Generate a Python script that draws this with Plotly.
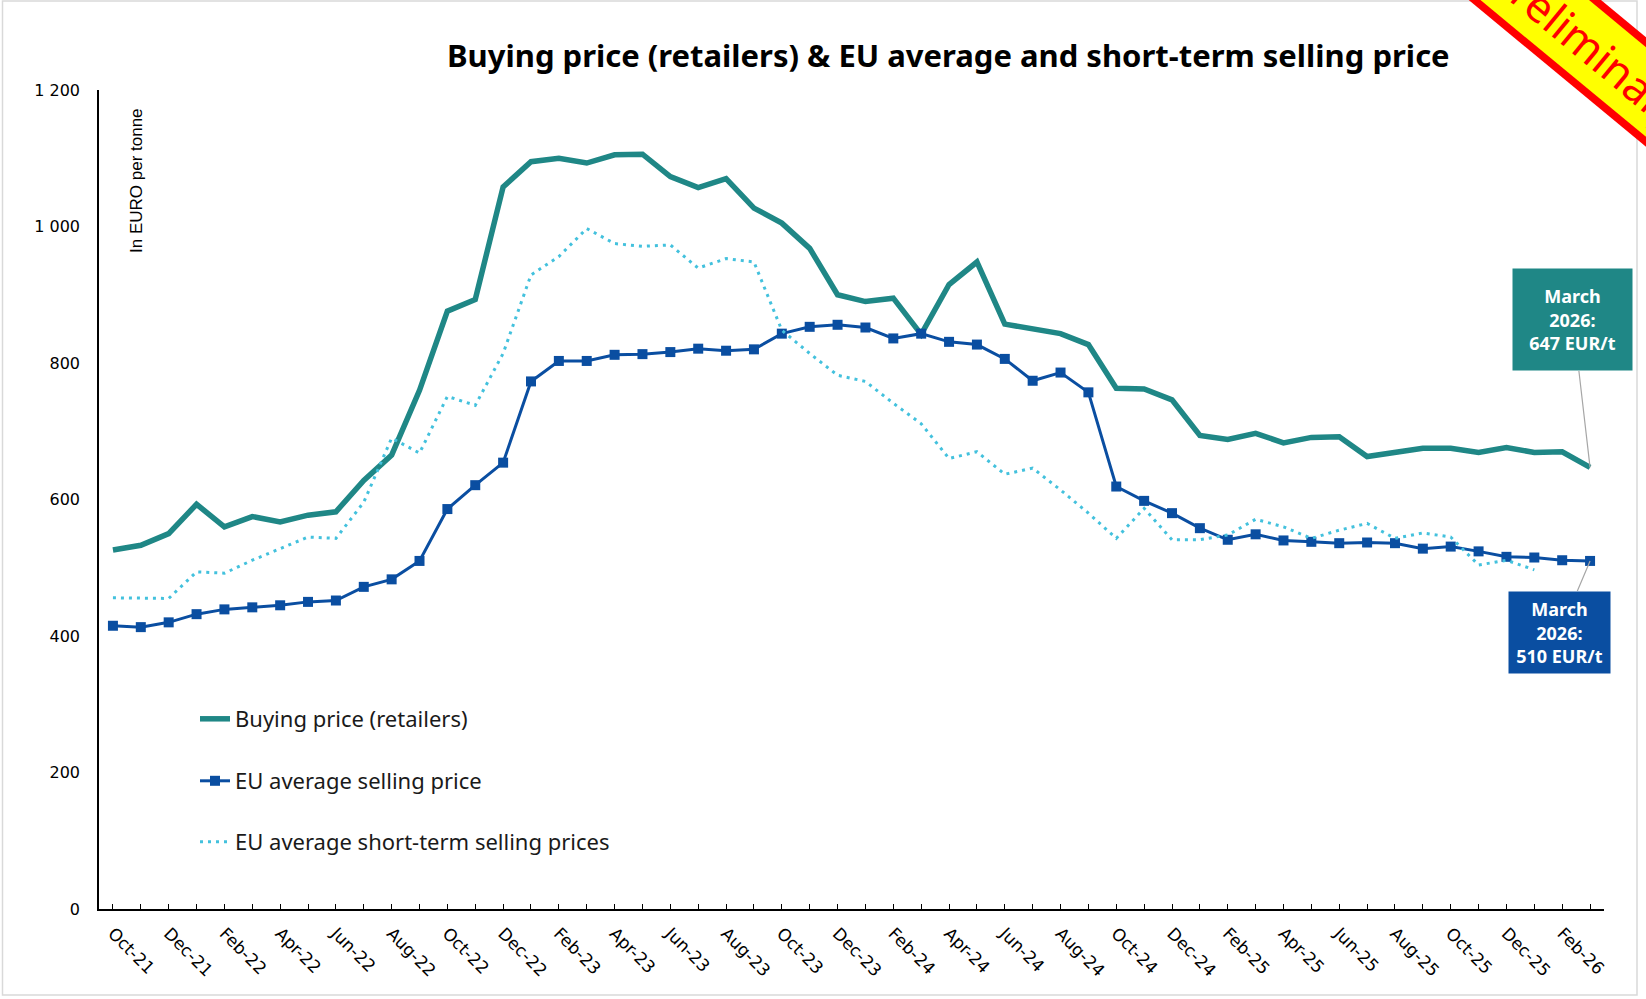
import plotly.graph_objects as go

# ---------------- data ----------------
months = ["Oct-21", "Nov-21", "Dec-21",
          "Jan-22", "Feb-22", "Mar-22", "Apr-22", "May-22", "Jun-22", "Jul-22", "Aug-22", "Sep-22", "Oct-22", "Nov-22", "Dec-22",
          "Jan-23", "Feb-23", "Mar-23", "Apr-23", "May-23", "Jun-23", "Jul-23", "Aug-23", "Sep-23", "Oct-23", "Nov-23", "Dec-23",
          "Jan-24", "Feb-24", "Mar-24", "Apr-24", "May-24", "Jun-24", "Jul-24", "Aug-24", "Sep-24", "Oct-24", "Nov-24", "Dec-24",
          "Jan-25", "Feb-25", "Mar-25", "Apr-25", "May-25", "Jun-25", "Jul-25", "Aug-25", "Sep-25", "Oct-25", "Nov-25", "Dec-25",
          "Jan-26", "Feb-26", "Mar-26"]

buying_price = [526, 533, 550,
                593, 560, 575, 567, 577, 582, 628, 665, 760, 876, 893, 1058,
                1095, 1100, 1093, 1105, 1106, 1073, 1057, 1070, 1027, 1005, 968, 900,
                890, 895, 842, 915, 948, 857, 851, 843, 827, 763, 762, 746,
                694, 688, 697, 683, 691, 692, 663, 670, 675, 675, 669, 676,
                669, 670, 647]

eu_avg_selling = [415, 413, 420,
                  432, 439, 442, 445, 450, 452, 472, 483, 510, 586, 621, 654,
                  773, 803, 803, 812, 813, 816, 821, 818, 820, 843, 853, 856,
                  852, 836, 843, 831, 827, 806, 774, 786, 757, 619, 598, 580,
                  558, 541, 549, 540, 538, 536, 537, 536, 528, 531, 524, 516,
                  515, 511, 510]

eu_short_term = [456, 456, 455,
                 494, 492, 511, 528, 545, 543, 596, 690, 668, 751, 738, 814,
                 929, 956, 997, 975, 971, 973, 939, 953, 948, 848, 814, 782,
                 773, 741, 711, 660, 670, 637, 646, 614, 580, 543, 587, 541,
                 541, 548, 571, 560, 543, 555, 565, 543, 551, 545, 504, 511,
                 497, None, None]

tick_labels = ["Oct-21", "Dec-21", "Feb-22", "Apr-22", "Jun-22", "Aug-22", "Oct-22", "Dec-22",
               "Feb-23", "Apr-23", "Jun-23", "Aug-23", "Oct-23", "Dec-23", "Feb-24", "Apr-24",
               "Jun-24", "Aug-24", "Oct-24", "Dec-24", "Feb-25", "Apr-25", "Jun-25", "Aug-25",
               "Oct-25", "Dec-25", "Feb-26"]
y_ticks = [0, 200, 400, 600, 800, 1000, 1200]
y_tick_labels = ["0", "200", "400", "600", "800", "1 000", "1 200"]

# ---------------- geometry ----------------
W, H = 1646, 999
ML, MR, MT, MB = 99, 42, 90, 90
PW = W - ML - MR
PH = H - MT - MB


def px(x):
    return (x - ML) / PW


def py(y):
    return (H - MB - y) / PH


TEAL = "#1F8786"
BLUE = "#0A4EA1"
LIGHT = "#43C1DD"

idx = list(range(len(months)))
tick_pos = [months.index(t) for t in tick_labels]

fig = go.Figure()
fig.add_trace(go.Scatter(x=idx, y=buying_price, mode="lines", name="Buying price (retailers)",
                         line=dict(color=TEAL, width=5.5), legend="legend"))
fig.add_trace(go.Scatter(x=idx, y=eu_avg_selling, mode="lines+markers", name="EU average selling price",
                         line=dict(color=BLUE, width=3), marker=dict(symbol="square", size=10, color=BLUE),
                         legend="legend2"))
fig.add_trace(go.Scatter(x=idx, y=eu_short_term, mode="lines", name="EU average short-term selling prices",
                         line=dict(color=LIGHT, width=3, dash="3px,5px"), connectgaps=False,
                         legend="legend3"))

leg_font = dict(family="Noto Sans", size=22, color="#1a1a1a")
leg_common = dict(xanchor="left", yanchor="middle", bgcolor="rgba(0,0,0,0)", font=leg_font)

x_last_px = ML + PW * (idx[-1] + 0.5) / len(idx)

annotations = [
    dict(text="<b>Buying price (retailers) &amp; EU average and short-term selling price</b>",
         xref="paper", yref="paper", x=px(948), y=py(55), xanchor="center", yanchor="middle",
         showarrow=False, font=dict(family="Noto Sans", size=31, color="#000000")),
    dict(text="In EURO per tonne", xref="paper", yref="paper", x=px(136), y=py(181),
         xanchor="center", yanchor="middle", textangle=-90, showarrow=False,
         font=dict(family="Liberation Sans Narrow, Liberation Sans", size=17, color="#000000")),
    dict(text="<b>March<br>2026:<br>%d EUR/t</b>" % buying_price[-1], x=idx[-1], y=buying_price[-1],
         xref="x", yref="y", ax=1573 - x_last_px, ay=320 - (H - MB - buying_price[-1] * PH / 1200),
         axref="pixel", ayref="pixel", showarrow=True, arrowhead=0, arrowwidth=1.2, arrowcolor="#A6A6A6",
         bgcolor=TEAL, width=117, height=99, borderpad=1, align="center",
         font=dict(family="Noto Sans", size=18, color="#ffffff")),
    dict(text="<b>March<br>2026:<br>%d EUR/t</b>" % eu_avg_selling[-1], x=idx[-1], y=eu_avg_selling[-1],
         xref="x", yref="y", ax=1560 - x_last_px, ay=632 - (H - MB - eu_avg_selling[-1] * PH / 1200),
         axref="pixel", ayref="pixel", showarrow=True, arrowhead=0, arrowwidth=1.2, arrowcolor="#A6A6A6",
         bgcolor=BLUE, width=99, height=79, borderpad=1, align="center",
         font=dict(family="Noto Sans", size=18, color="#ffffff")),
]

# preliminary ribbon (pixel geometry converted to paper)
k = 0.827


def band(x_low, x_up):
    pts = [(1400, k * (1400 - x_low)), (1760, k * (1760 - x_low)),
           (1760, k * (1760 - x_up)), (1400, k * (1400 - x_up))]
    return "M " + " L ".join("%f,%f" % (px(a), py(b)) for a, b in pts) + " Z"


shapes = [
    dict(type="rect", xref="paper", yref="paper", x0=px(2.5), x1=px(1637), y0=py(995), y1=py(1),
         line=dict(color="#D9D9D9", width=1.5), layer="below"),
    dict(type="path", xref="paper", yref="paper", path=band(1468.7, 1601), fillcolor="#FF0000",
         line=dict(width=0), layer="above"),
    dict(type="path", xref="paper", yref="paper", path=band(1480.5, 1589), fillcolor="#FFFF00",
         line=dict(width=0), layer="above"),
]
annotations.append(dict(text="Preliminary", xref="paper", yref="paper", x=px(1589), y=py(45),
                        xanchor="center", yanchor="middle", textangle=39.6, showarrow=False,
                        font=dict(family="Noto Sans", size=44, color="#FF0000")))

fig.update_layout(
    width=W, height=H,
    margin=dict(l=ML, r=MR, t=MT, b=MB, pad=0),
    paper_bgcolor="#ffffff", plot_bgcolor="#ffffff",
    showlegend=True,
    legend=dict(x=px(195), y=py(719), **leg_common),
    legend2=dict(x=px(195), y=py(781), **leg_common),
    legend3=dict(x=px(195), y=py(842), **leg_common),
    xaxis=dict(range=[-0.5, len(idx) - 0.5], tickmode="array", tickvals=tick_pos, ticktext=tick_labels,
               tickangle=45, showline=True, linecolor="#000000", linewidth=1.5, showgrid=False, zeroline=False,
               ticks="inside", ticklen=5, tickcolor="#000000",
               minor=dict(tickvals=idx, ticks="inside", ticklen=5, tickcolor="#000000"),
               tickfont=dict(family="DejaVu Sans", size=17, color="#000000"), ticklabelstandoff=6),
    yaxis=dict(range=[0, 1200], tickmode="array", tickvals=y_ticks, ticktext=y_tick_labels,
               showline=True, linecolor="#000000", linewidth=1.5, showgrid=False, zeroline=False,
               ticks="", tickfont=dict(family="DejaVu Sans", size=16, color="#000000"), ticklabelstandoff=14),
    annotations=annotations,
    shapes=shapes,
)

fig.write_html("out.html", config={"displayModeBar": False},
               post_script="document.body.style.margin='0';document.body.style.overflow='hidden';")
